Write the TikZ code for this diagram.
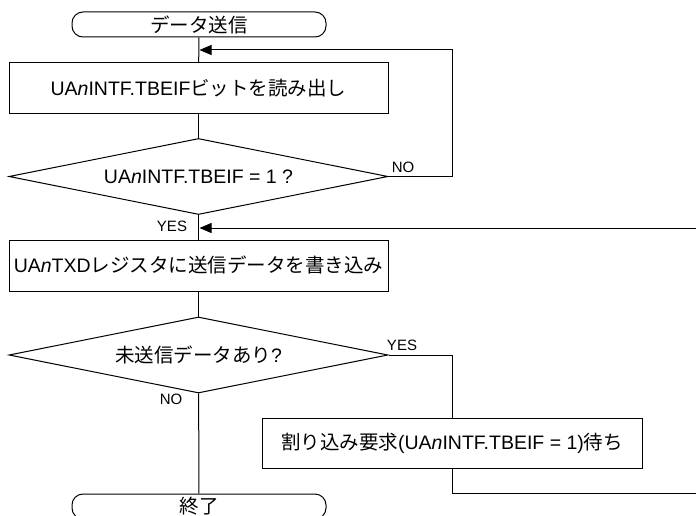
\documentclass[tikz,border=0pt]{standalone}
\usepackage{fontspec}
\setmainfont{Liberation Sans}
\newfontfamily\jpfont{Noto Sans CJK JP}
\newcommand{\jp}[1]{{\jpfont #1}}
\usepackage{tikz}
\usetikzlibrary{arrows.meta, positioning, shapes.geometric}
\tikzset{
  flowline/.style={line width=1pt},
  proc/.style={draw, flowline, minimum width=379pt, minimum height=51pt, inner sep=0pt},
  term/.style={draw, flowline, rounded corners=11pt, minimum width=254pt, minimum height=25pt, inner sep=0pt},
  decide/.style={draw, flowline, diamond, aspect=5, minimum width=379pt, minimum height=76pt, inner sep=0pt},
  lbl/.style={font=\fontsize{15}{17}\selectfont, inner sep=0pt},
  backarrow/.style={flowline, -{Triangle[length=12pt, width=10pt]}}
}

\begin{document}
\begin{tikzpicture}[x=1pt, y=-1pt, font=\fontsize{19.5}{23}\selectfont]
				% Nodes, labels and flow lines:
				\useasboundingbox (0,0) rectangle (696,516);
				\node[term](start) at (199, 24.5){\jp{データ送信}};
				\node[proc](readbit) at (198.5, 88.5){UA\textit{n}INTF.TBEIF\jp{ビットを読み出し}};
				\node[decide](chkflag) at (198.5, 176.5){UA\textit{n}INTF.TBEIF = 1 ?};
				\node[proc](wrtxd) at (198.5, 265.5){UA\textit{n}TXD\jp{レジスタに送信データを書き込み}};
				\node[decide](chkrest) at (198.5, 355){\jp{未送信データあり}?};
				\node[proc, minimum width=380pt, minimum height=50pt](waitint) at (452, 443){\jp{割り込み要求}(UA\textit{n}INTF.TBEIF = 1)\jp{待ち}};
				\node[term](finish) at (199, 506.5){\jp{終了}};
				\node[lbl](noA) at (403, 167){NO};
				\node[lbl](yesA) at (172, 226){YES};
				\node[lbl](yesB) at (402, 345){YES};
				\node[lbl](noB) at (171, 399){NO};
				\coordinate (join1) at (199.5, 50);
				\coordinate (join2) at (199.5, 228);
				\coordinate (norail) at (452, 50);
				\coordinate (retcorner) at (698, 493);
				\coordinate (retrail) at (698, 228);
				\draw[flowline] (start) -- (readbit);
				\draw[flowline] (readbit) -- (chkflag);
				\draw[flowline] (chkflag) -- (wrtxd);
				\draw[flowline] (wrtxd) -- (chkrest);
				\draw[flowline] (chkrest) -- (finish);
				\draw[flowline] (chkrest.east) -| (waitint.north);
				\draw[backarrow] (chkflag.east) -| (norail) -- (join1);
				\draw[backarrow] (waitint.south) |- (retcorner) -- (retrail) -- (join2);
			\end{tikzpicture}
\end{document}
